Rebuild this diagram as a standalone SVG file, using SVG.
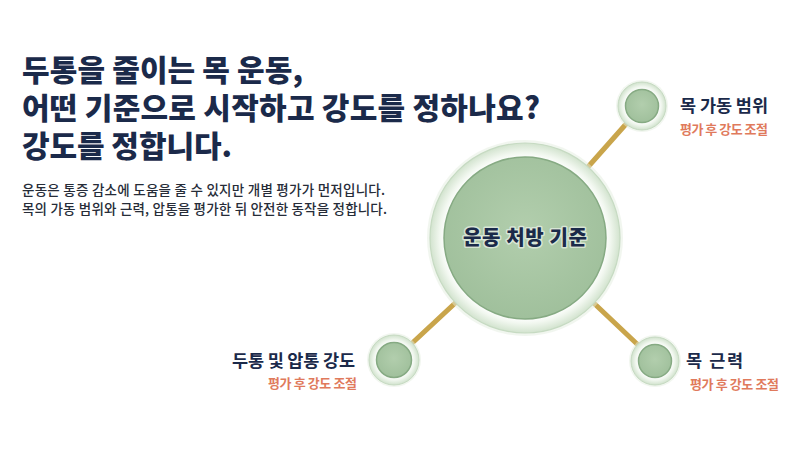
<svg xmlns="http://www.w3.org/2000/svg" width="800" height="450" viewBox="0 0 800 450">
<defs>
<style>
.title{font-family:"Noto Sans CJK KR","Noto Sans",sans-serif;font-weight:800;font-size:30px;fill:#1b2a4a}
.sub{font-family:"Noto Sans CJK KR","Noto Sans",sans-serif;font-weight:500;font-size:13.5px;fill:#262c38}
.lbl{font-family:"Noto Sans CJK KR","Noto Sans",sans-serif;font-weight:700;font-size:17.5px;fill:#1b2a4a}
.note{font-family:"Noto Sans CJK KR","Noto Sans",sans-serif;font-weight:700;font-size:13px;fill:#e07a5c}
.center{font-family:"Noto Sans CJK KR","Noto Sans",sans-serif;font-weight:800;font-size:20px;fill:#1b2a4a;stroke:#ffffff;stroke-width:3;stroke-opacity:0.55;paint-order:stroke;stroke-linejoin:round}
.link{stroke:#c9a54b;stroke-width:5;stroke-linecap:round;fill:none}
.core{fill:url(#coreFill);stroke:#86aa83;stroke-width:1.5}
.glow{fill:#e3eee0;opacity:0.5}
</style>
<radialGradient id="ringBig" cx="50%" cy="50%" r="50%">
<stop offset="0.84" stop-color="#ffffff"/>
<stop offset="0.9" stop-color="#f1f7ef"/>
<stop offset="1" stop-color="#d2e3ce"/>
</radialGradient>
<radialGradient id="ringSmall" cx="50%" cy="50%" r="50%">
<stop offset="0.68" stop-color="#ffffff"/>
<stop offset="0.82" stop-color="#eef5ec"/>
<stop offset="1" stop-color="#d0e2cc"/>
</radialGradient>
<radialGradient id="coreFill" cx="50%" cy="45%" r="55%">
<stop offset="0" stop-color="#b2cead"/>
<stop offset="1" stop-color="#a0c09c"/>
</radialGradient>
</defs>
<rect width="800" height="450" fill="#ffffff"/>
<g id="heading">
<text class="title" x="22" y="81" textLength="281" lengthAdjust="spacing">두통을 줄이는 목 운동,</text>
<text class="title" x="22" y="119" textLength="518" lengthAdjust="spacing">어떤 기준으로 시작하고 강도를 정하나요?</text>
<text class="title" x="22" y="157" textLength="210" lengthAdjust="spacing">강도를 정합니다.</text>
<text class="sub" x="22" y="195" textLength="363" lengthAdjust="spacing">운동은 통증 감소에 도움을 줄 수 있지만 개별 평가가 먼저입니다.</text>
<text class="sub" x="22" y="214" textLength="365" lengthAdjust="spacing">목의 가동 범위와 근력, 압통을 평가한 뒤 안전한 동작을 정합니다.</text>
</g>
<g id="connectors">
<line class="link" x1="525" y1="238" x2="642" y2="106"/>
<line class="link" x1="525" y1="238" x2="394" y2="360"/>
<line class="link" x1="525" y1="238" x2="655" y2="361"/>
</g>
<g id="node-center">
<circle class="glow" cx="525" cy="238" r="98"/>
<circle cx="525" cy="238" r="95" fill="url(#ringBig)" stroke="#c6dac2" stroke-width="1.2"/>
<circle class="core" cx="525" cy="238" r="81"/>
<text class="center" x="525" y="245" text-anchor="middle" textLength="124" lengthAdjust="spacing">운동 처방 기준</text>
</g>
<g id="node-rom">
<circle class="glow" cx="642" cy="106" r="26"/>
<circle cx="642" cy="106" r="24" fill="url(#ringSmall)" stroke="#c6dac2" stroke-width="1"/>
<circle class="core" cx="642" cy="106" r="16.5"/>
<text class="lbl" x="680" y="112" textLength="88" lengthAdjust="spacing">목 가동 범위</text>
<text class="note" x="680" y="134" textLength="88" lengthAdjust="spacing">평가 후 강도 조절</text>
</g>
<g id="node-strength">
<circle class="glow" cx="655" cy="361" r="26"/>
<circle cx="655" cy="361" r="24" fill="url(#ringSmall)" stroke="#c6dac2" stroke-width="1"/>
<circle class="core" cx="655" cy="361" r="16.5"/>
<text class="lbl" x="686" y="367" textLength="57" lengthAdjust="spacing">목 근력</text>
<text class="note" x="690" y="389" textLength="89" lengthAdjust="spacing">평가 후 강도 조절</text>
</g>
<g id="node-pain">
<circle class="glow" cx="394" cy="360" r="27"/>
<circle cx="394" cy="360" r="25" fill="url(#ringSmall)" stroke="#c6dac2" stroke-width="1"/>
<circle class="core" cx="394" cy="360" r="17.5"/>
<text class="lbl" x="355" y="367" text-anchor="end" textLength="123" lengthAdjust="spacing">두통 및 압통 강도</text>
<text class="note" x="357" y="388" text-anchor="end" textLength="89" lengthAdjust="spacing">평가 후 강도 조절</text>
</g>
</svg>
